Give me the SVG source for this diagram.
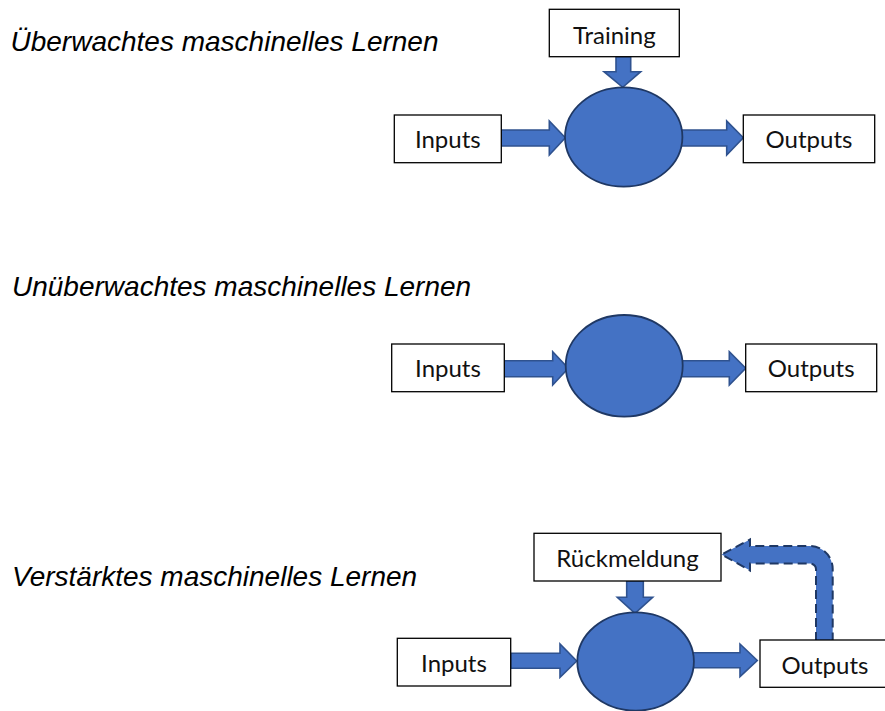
<svg xmlns="http://www.w3.org/2000/svg" width="885" height="711" viewBox="0 0 885 711">
<style>
.title{font-family:"Liberation Sans",Arial,sans-serif;font-style:italic;font-size:28px;fill:#000}
.box{fill:#fff;stroke:#000;stroke-width:1.3}
.lbl{font-family:Lato,"Open Sans",sans-serif;font-size:24px;fill:#111;text-anchor:middle}
.blk{fill:#4472C4;stroke:#2F528F;stroke-width:1.6;stroke-linejoin:miter}
.proc{fill:#4472C4;stroke:#1F3864;stroke-width:1.8}
.dash{fill:#4472C4;stroke:#1F3864;stroke-width:2;stroke-dasharray:9 5}
</style>
<rect width="885" height="711" fill="#fff"/>
<g id="titles">
<text class="title" x="10.5" y="51">Überwachtes maschinelles Lernen</text>
<text class="title" x="12" y="296">Unüberwachtes maschinelles Lernen</text>
<text class="title" x="12" y="586">Verstärktes maschinelles Lernen</text>
</g>
<g id="connectors">
<polygon class="blk" points="501,130 549.3,130 549.3,121 565.3,137.8 549.3,155 549.3,146 501,146"/>
<polygon class="blk" points="678,130 726.7,130 726.7,121 743.3,137.8 726.7,155 726.7,146 678,146"/>
<polygon class="blk" points="616,56.7 630.7,56.7 630.7,71.7 640.7,71.7 622.7,87.3 604,71.7 616,71.7"/>
<polygon class="blk" points="504,360.7 552.7,360.7 552.7,351.7 568.3,368.3 552.7,385 552.7,376.7 504,376.7"/>
<polygon class="blk" points="680,360.7 729.3,360.7 729.3,351.7 745.7,368.3 729.3,385 729.3,376.7 680,376.7"/>
<polygon class="blk" points="510.7,653.3 560,653.3 560,644 576.7,661 560,677.3 560,668.3 510.7,668.3"/>
<polygon class="blk" points="690,652.7 740,652.7 740,644 757.3,660.5 740,676.7 740,667.7 690,667.7"/>
<polygon class="blk" points="626.7,581 643.3,581 643.3,597.3 652.7,597.3 635,613.3 617.3,597.3 626.7,597.3"/>
<path class="dash" d="M816,641 L816,569.5 A6,6 0 0 0 810,563.5 L750,563.5 L750,570.5 L721.7,554.5 L750,539.5 L750,546 L810,546 A22.7,23 0 0 1 832.7,569 L832.7,641 Z"/>
</g>
<g id="supervised">
<g id="training"><rect class="box" x="549.3" y="9.3" width="130" height="47.4"/><text class="lbl" x="614.3" y="44">Training</text></g>
<g id="inputs1"><rect class="box" x="394.3" y="115" width="107" height="47.7"/><text class="lbl" x="447.8" y="148.3">Inputs</text></g>
<g id="model1"><ellipse class="proc" cx="623.7" cy="137" rx="58.7" ry="49.7"/></g>
<g id="outputs1"><rect class="box" x="743.3" y="115" width="131.4" height="47.7"/><text class="lbl" x="809" y="148.3">Outputs</text></g>
</g>
<g id="unsupervised">
<g id="inputs2"><rect class="box" x="391.7" y="344" width="112.6" height="47.7"/><text class="lbl" x="448" y="376.7">Inputs</text></g>
<g id="model2"><ellipse class="proc" cx="624.2" cy="365.8" rx="58.5" ry="50.8"/></g>
<g id="outputs2"><rect class="box" x="745.7" y="344" width="131" height="47.7"/><text class="lbl" x="811.2" y="376.7">Outputs</text></g>
</g>
<g id="reinforcement">
<g id="feedback"><rect class="box" x="534" y="533.3" width="187" height="47.7"/><text class="lbl" x="627.5" y="566.7">Rückmeldung</text></g>
<g id="inputs3"><rect class="box" x="397.3" y="638.3" width="113.4" height="47.7"/><text class="lbl" x="454" y="672.3">Inputs</text></g>
<g id="model3"><ellipse class="proc" cx="635.6" cy="661.5" rx="58.3" ry="49.2"/></g>
<g id="outputs3"><rect class="box" x="760" y="640" width="130" height="47.3"/><text class="lbl" x="825" y="674">Outputs</text></g>
</g>
</svg>
